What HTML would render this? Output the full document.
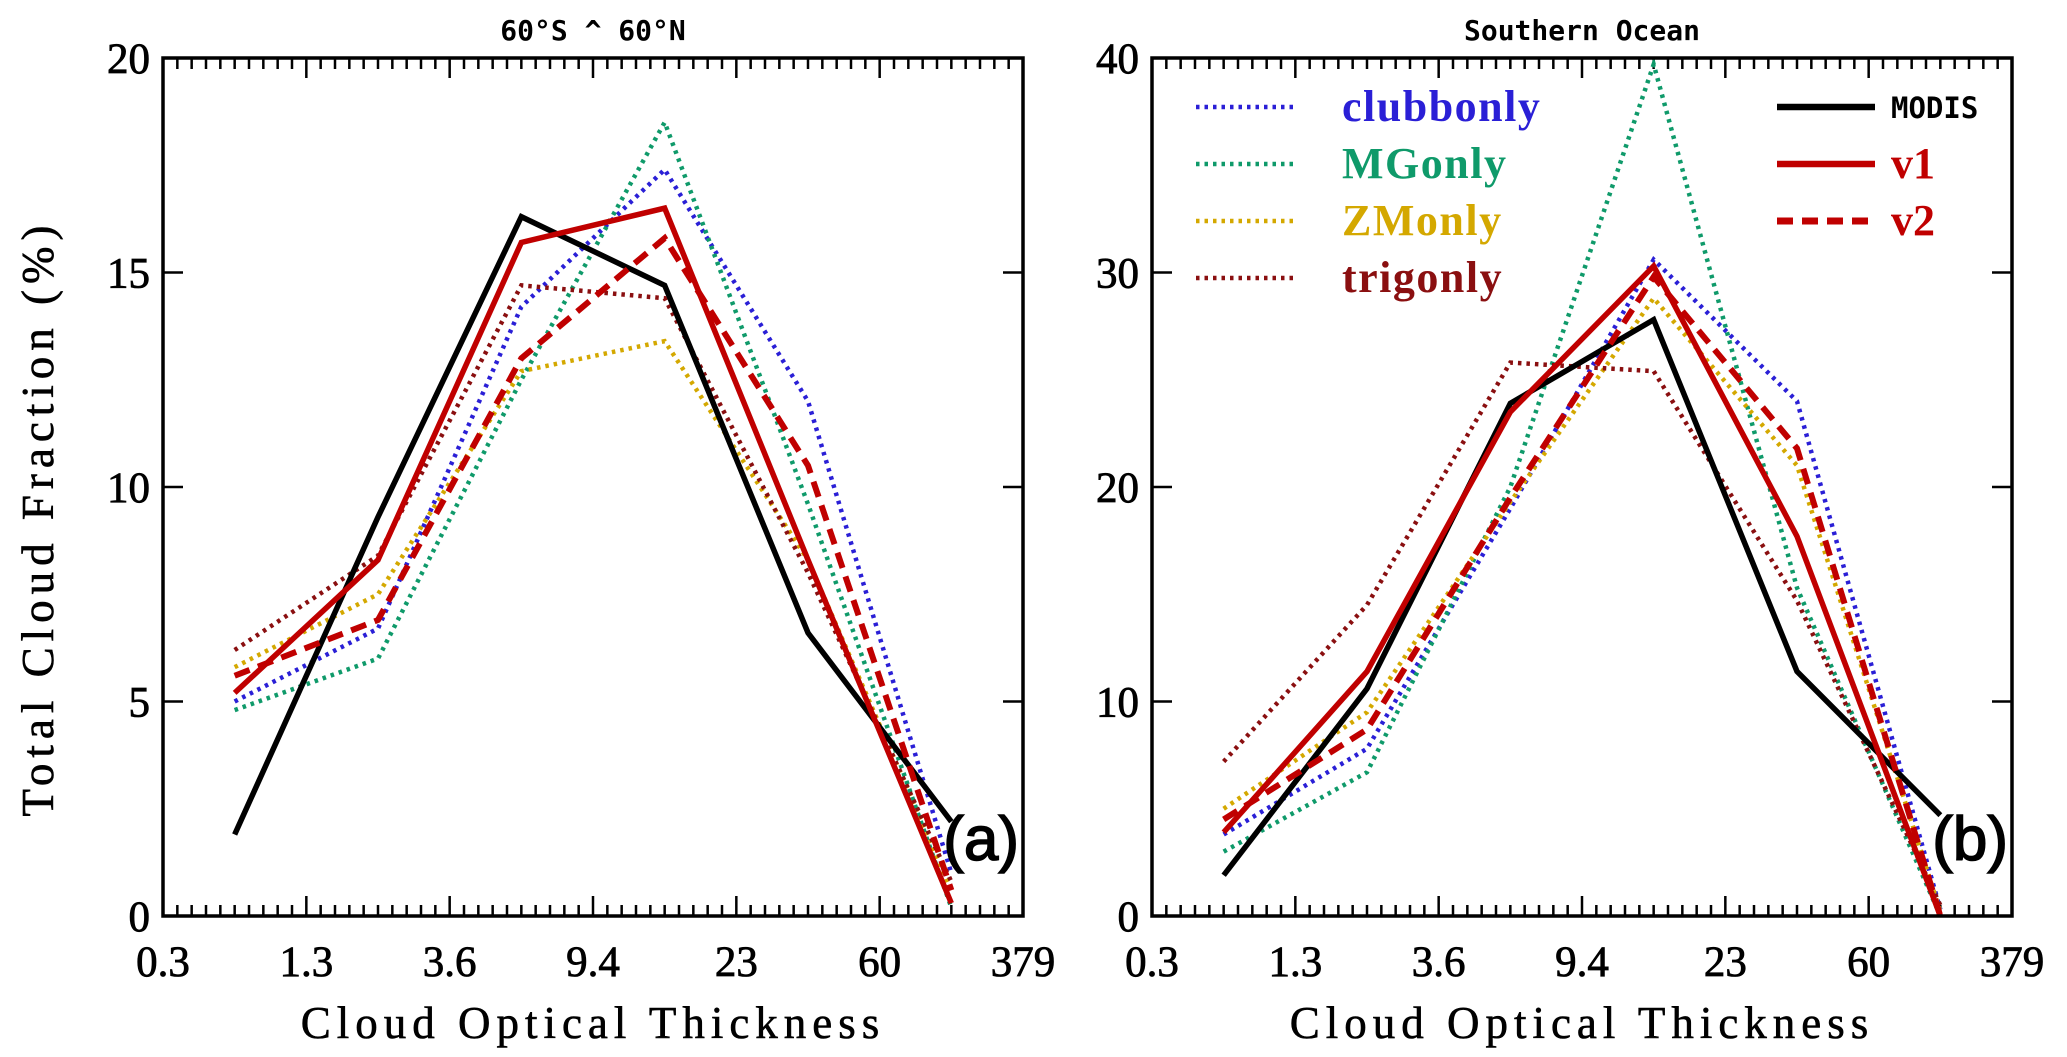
<!DOCTYPE html>
<html><head><meta charset="utf-8"><style>
html,body{margin:0;padding:0;background:#fff;}
svg{display:block;}
</style></head><body>
<svg id="chart" width="2067" height="1057" xmlns="http://www.w3.org/2000/svg"></svg>
<script>
const xTickLabels = ["0.3","1.3","3.6","9.4","23","60","379"];
const panelTitles = ["60°S ^ 60°N","Southern Ocean"];
const yMaxes = [20,40];
const yTicksA = [0,5,10,15,20];
const yTicksB = [0,10,20,30,40];
const seriesNames = ["clubbonly","MGonly","ZMonly","trigonly","MODIS","v1","v2"];
const clubbA = [5.0,6.7,14.2,17.4,12.0,1.0];
const mgA    = [4.8,6.0,12.5,18.5,9.6,0.2];
const zmA    = [5.8,7.5,12.7,13.4,8.3,0.6];
const trigA  = [6.2,8.4,14.7,14.4,8.0,0.8];
const modisA = [1.9,9.3,16.3,14.7,6.6,2.2];
const v1A    = [5.2,8.3,15.7,16.5,8.3,0.3];
const v2A    = [5.6,6.9,13.0,15.8,10.5,0.6];
const clubbB = [3.8,7.8,19.0,30.6,24.0,0.3];
const mgB    = [3.0,6.7,20.0,39.7,15.3,0.0];
const zmB    = [5.0,9.5,19.3,28.8,21.0,0.2];
const trigB  = [7.2,14.5,25.8,25.4,14.7,0.5];
const modisB = [1.9,10.6,23.9,27.8,11.4,4.7];
const v1B    = [3.9,11.4,23.5,30.3,17.7,0.0];
const v2B    = [4.5,8.7,19.5,29.8,21.8,0.0];

const NS="http://www.w3.org/2000/svg";
const svg=document.getElementById('chart');
function mk(tag,attrs,parent){const e=document.createElementNS(NS,tag);for(const k in attrs)e.setAttribute(k,attrs[k]);(parent||svg).appendChild(e);return e;}
const styles=[
 {c:"#2a1fd6",w:4.5,d:"3.5 5"},
 {c:"#0f9a6a",w:4.5,d:"3.5 5"},
 {c:"#d4a800",w:4.5,d:"3.5 5"},
 {c:"#8a0f10",w:4.5,d:"3.5 5"},
 {c:"#000000",w:5.5,d:""},
 {c:"#c00000",w:5.5,d:""},
 {c:"#c00000",w:6,d:"16 9"}];
const panels=[
 {left:163,right:1023,top:58,bottom:916,data:[clubbA,mgA,zmA,trigA,modisA,v1A,v2A],ticks:yTicksA,tag:"(a)",id:"a"},
 {left:1152,right:2012,top:58,bottom:916,data:[clubbB,mgB,zmB,trigB,modisB,v1B,v2B],ticks:yTicksB,tag:"(b)",id:"b"}];
const serif='"Liberation Serif", serif';
panels.forEach((p,pi)=>{
 const W=p.right-p.left,H=p.bottom-p.top;
 const xs=i=>p.left+(i+0.5)*W/6;
 const xe=i=>p.left+i*W/6;
 const ys=v=>p.bottom-v/yMaxes[pi]*H;
 const g=mk('g',{});
 
 
 const t=mk('text',{x:(p.left+p.right)/2,y:40,'text-anchor':'middle','font-family':'"DejaVu Sans Mono","Liberation Mono",monospace','font-size':28,'font-weight':'bold'},g);
 t.textContent=panelTitles[pi];
 
 
 for(let i=0;i<=60;i++){
  const x=p.left+i*W/60;const L=(i%10===0)?20:11;
  mk('line',{x1:x,x2:x,y1:p.bottom,y2:p.bottom-L,stroke:'#000','stroke-width':2.5},g);
  mk('line',{x1:x,x2:x,y1:p.top,y2:p.top+L,stroke:'#000','stroke-width':2.5},g);
 }
 p.ticks.forEach(v=>{
  const y=ys(v);
  mk('line',{x1:p.left,x2:p.left+20,y1:y,y2:y,stroke:'#000','stroke-width':2.5},g);
  mk('line',{x1:p.right,x2:p.right-20,y1:y,y2:y,stroke:'#000','stroke-width':2.5},g);
  const tx=mk('text',{x:p.left-13,y:y+15,'text-anchor':'end','font-family':serif,'font-size':43,stroke:'#000','stroke-width':0.8},g);
  tx.textContent=v;
  
  
 });
 xTickLabels.forEach((s,i)=>{
  const tx=mk('text',{x:xe(i),y:976,'text-anchor':'middle','font-family':serif,'font-size':43,stroke:'#000','stroke-width':0.8},g);
  tx.textContent=s;
  
  
 });
 const xt=mk('text',{x:(p.left+p.right)/2,y:1038,'text-anchor':'middle','font-family':serif,'font-size':45,'letter-spacing':6,stroke:'#000','stroke-width':0.6},g);
 xt.textContent="Cloud Optical Thickness";
 
 
 p.data.forEach((arr,si)=>{
  const s=styles[si];
  const pts=arr.map((v,i)=>xs(i)+','+ys(v)).join(' ');
  const pl=mk('polyline',{points:pts,fill:'none',stroke:s.c,'stroke-width':s.w,'stroke-dasharray':s.d,'stroke-linejoin':'miter'},g);
  
  
 });
 mk('rect',{x:p.left,y:p.top,width:W,height:H,fill:'none',stroke:'#000','stroke-width':3.5},g);
 const tg=mk('text',{x:p.right-4,y:860,'text-anchor':'end','font-family':'"Liberation Sans",sans-serif','font-size':62,stroke:'#000','stroke-width':1.5},g);
 tg.textContent=p.tag;
 
 
});
const yt=mk('text',{x:0,y:0,'text-anchor':'middle','font-family':serif,'font-size':45,'letter-spacing':6,stroke:'#000','stroke-width':0.6,transform:'translate(53,518) rotate(-90)'});
yt.textContent="Total Cloud Fraction (%)";


const lg=mk('g',{});


[0,1,2,3].forEach(k=>{
 const y=107+k*57;const s=styles[k];
 mk('line',{x1:1196,x2:1298,y1:y,y2:y,stroke:s.c,'stroke-width':s.w,'stroke-dasharray':s.d},lg);
 const tx=mk('text',{x:1342,y:y+14,'font-family':serif,'font-size':44,'font-weight':'bold','letter-spacing':1.5,fill:s.c},lg);
 tx.textContent=seriesNames[k];
 
 
});
[4,5,6].forEach((k,j)=>{
 const y=107+j*57;const s=styles[k];
 mk('line',{x1:1777,x2:1875,y1:y,y2:y,stroke:s.c,'stroke-width':s.w+1,'stroke-dasharray':s.d},lg);
 const tx=mk('text',{x:1891,y:y+(k===4?11:14),'font-family':k===4?'"DejaVu Sans Mono",monospace':serif,'font-size':k===4?29:44,'font-weight':'bold',fill:s.c},lg);
 tx.textContent=seriesNames[k];
 
 
});
</script>
</body></html>
